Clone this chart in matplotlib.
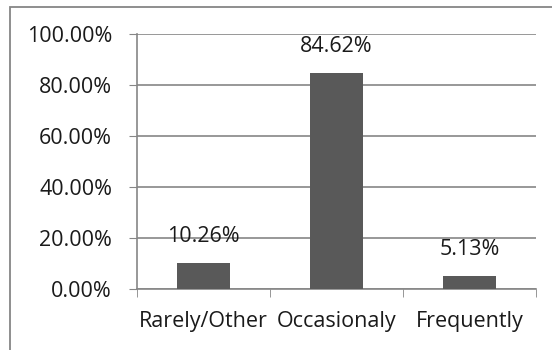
import matplotlib
matplotlib.use("Agg")
import matplotlib.pyplot as plt
from matplotlib.patches import Rectangle

categories = ["Rarely/Other", "Occasionaly", "Frequently"]
values = [10.26, 84.62, 5.13]
labels = ["10.26%", "84.62%", "5.13%"]
yticks = [0, 20, 40, 60, 80, 100]
yticklabels = ["0.00%", "20.00%", "40.00%", "60.00%", "80.00%", "100.00%"]

W, H = 552, 350
fig = plt.figure(figsize=(W/100, H/100), dpi=100)
plt.rcParams['font.family'] = ['Open Sans', 'DejaVu Sans']
FS = 15.5
TXT = '#1a1a1a'

# outer border
fig.patches.append(Rectangle((10/W, -0.1), 1.2, (H-7)/H + 0.1, transform=fig.transFigure,
                             fill=False, edgecolor='#868686', linewidth=1.3))

left, right, top, bottom = 137, 536, 34, 289
ax = fig.add_axes([left/W, 1-bottom/H, (right-left)/W, (bottom-top)/H])
ax.set_xlim(-0.5, 2.5)
ax.set_ylim(0, 100)
ax.bar(range(len(categories)), values, width=0.4, color='#595959', zorder=3)
ax.set_yticks(yticks)
ax.set_yticklabels(yticklabels, fontsize=FS, color=TXT)
ax.yaxis.grid(True, color='#868686', linewidth=1.2, zorder=0)
ax.set_xticks(range(len(categories)))
ax.set_xticklabels(categories, fontsize=FS, color=TXT)
ax.tick_params(axis='x', length=0, pad=16)
ax.tick_params(axis='y', length=6, color='#868686', direction='out', pad=12)
ax.set_xticks([-0.5, 0.5, 1.5, 2.5], minor=True)
ax.tick_params(axis='x', which='minor', length=6, color='#868686', direction='out')
for s in ['top', 'right']:
    ax.spines[s].set_visible(False)
for s in ['left', 'bottom']:
    ax.spines[s].set_color('#868686')
    ax.spines[s].set_linewidth(1.2)
for i, (v, t) in enumerate(zip(values, labels)):
    ax.annotate(t, (i, v), xytext=(0, 19), textcoords='offset points',
                ha='center', va='center', fontsize=FS, color=TXT)
fig.savefig("out.png", dpi=100)
